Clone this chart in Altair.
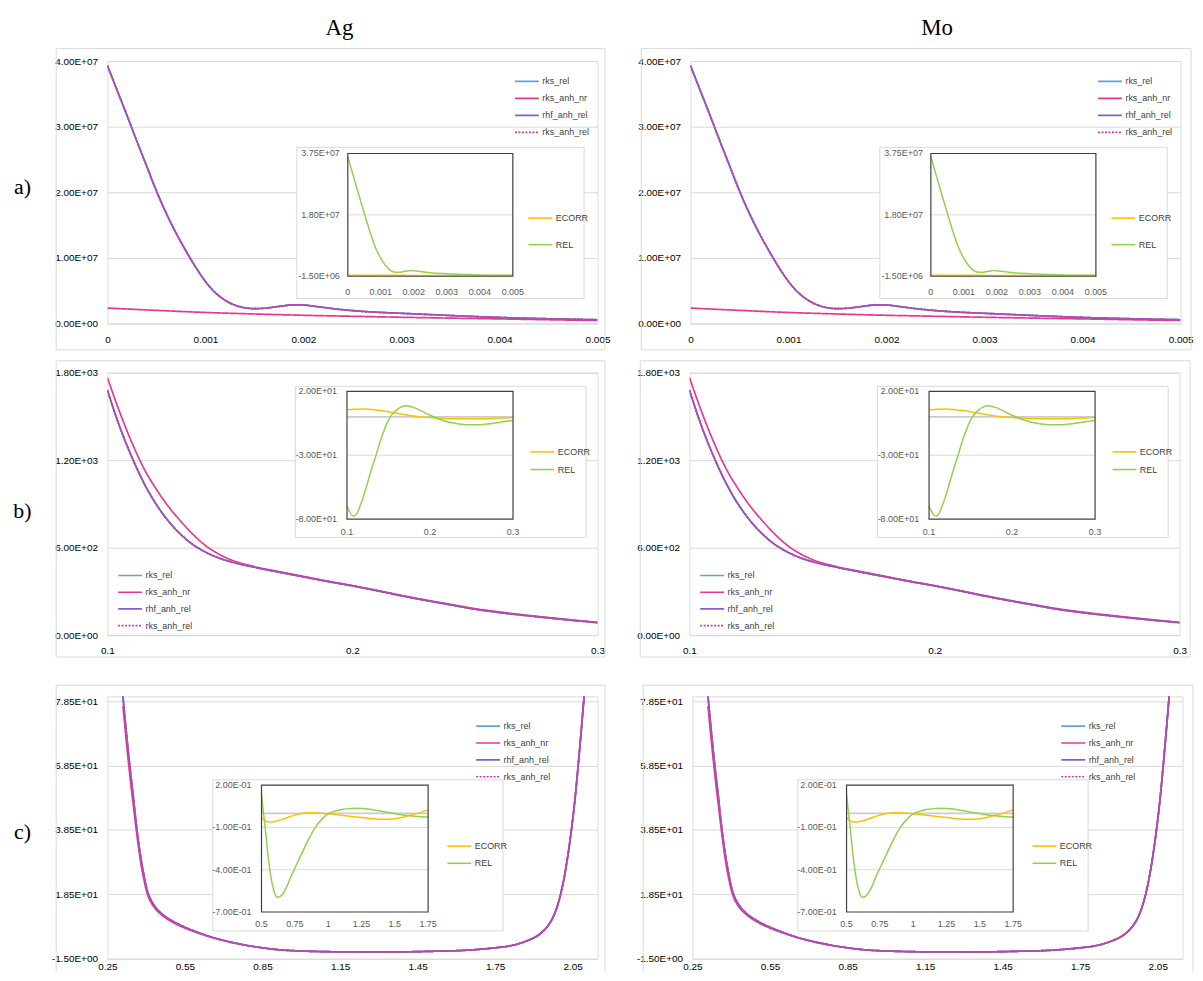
import altair as alt
import pandas as pd

W, H = 493, 264

SERIES = ["rks_rel", "rks_anh_nr", "rhf_anh_rel", "rks_anh_rel"]
SERIES_COLORS = ["#5BA3DC", "#E8388E", "#8A5CCF", "#C8409C"]
SERIES_DASH = [[1, 0], [1, 0], [1, 0], [2, 1.5]]
INSET_SERIES = ["ECORR", "REL"]
INSET_COLORS = ["#FFC000", "#92D050"]

# ---------------- row a) ----------------
A_X = [0, 0.0001, 0.0002, 0.0003, 0.0004, 0.0005, 0.0006, 0.0007, 0.0008, 0.0009,
       0.001, 0.0011, 0.0012, 0.0013, 0.0014, 0.0015, 0.0016, 0.0017, 0.0018, 0.0019,
       0.002, 0.0021, 0.0022, 0.0024, 0.0026, 0.0028, 0.003, 0.0033, 0.0036, 0.004,
       0.0045, 0.005]
A_REL_MAIN = [3.93e7, 3.55e7, 3.17e7, 2.78e7, 2.40e7, 2.02e7, 1.68e7, 1.38e7, 1.11e7, 0.86e7,
              0.64e7, 0.47e7, 0.355e7, 0.28e7, 0.24e7, 0.227e7, 0.232e7, 0.25e7, 0.27e7, 0.285e7,
              0.282e7, 0.265e7, 0.245e7, 0.21e7, 0.185e7, 0.168e7, 0.155e7, 0.135e7, 0.115e7, 0.092e7,
              0.072e7, 0.057e7]
A_NR_X = [0, 0.0005, 0.001, 0.0015, 0.002, 0.0025, 0.003, 0.0035, 0.004, 0.0045, 0.005]
A_NR = [2.35e6, 2.0e6, 1.68e6, 1.45e6, 1.25e6, 1.1e6, 0.95e6, 0.82e6, 0.7e6, 0.57e6, 0.45e6]
A_IN_X = [0, 0.0001, 0.0002, 0.0003, 0.0004, 0.0005, 0.0006, 0.0007, 0.0008, 0.0009,
          0.001, 0.0011, 0.0012, 0.0013, 0.0014, 0.0015, 0.0016, 0.0017, 0.0018, 0.0019,
          0.002, 0.0022, 0.0025, 0.003, 0.0035, 0.004, 0.0045, 0.005]
A_IN_REL = [3.65e7, 3.28e7, 2.92e7, 2.56e7, 2.2e7, 1.85e7, 1.5e7, 1.17e7, 0.87e7, 0.62e7,
            0.42e7, 0.25e7, 0.12e7, 0.03e7, -0.015e7, -0.025e7, -0.02e7, 0.0, 0.02e7, 0.03e7,
            0.025e7, 0.0, -0.04e7, -0.07e7, -0.09e7, -0.11e7, -0.12e7, -0.12e7]
A_EC_X = [0, 0.001, 0.002, 0.003, 0.004, 0.005]
A_EC = [-1.2e6, -1.2e6, -1.22e6, -1.22e6, -1.24e6, -1.25e6]
A_XTICKS = [0, 0.001, 0.002, 0.003, 0.004, 0.005]
A_YTICKS = [0, 1e7, 2e7, 3e7, 4e7]
A_IN_XLABELS = ["0", "0.001", "0.002", "0.003", "0.004", "0.005"]
A_IN_YTICKS = [-1.5e6, 1.8e7, 3.75e7]
A_IN_YLABELS = ["-1.50E+06", "1.80E+07", "3.75E+07"]

# ---------------- row b) ----------------
B_X = [0.1, 0.105, 0.11, 0.115, 0.12, 0.125, 0.13, 0.135, 0.14, 0.145, 0.15, 0.16, 0.17,
       0.18, 0.19, 0.2, 0.21, 0.22, 0.23, 0.24, 0.25, 0.26, 0.27, 0.28, 0.29, 0.3]
B_REL_MAIN = [1680, 1430, 1220, 1040, 895, 780, 690, 620, 570, 532, 505, 466, 432,
              400, 368, 338, 305, 270, 238, 208, 178, 155, 136, 118, 101, 86]
B_NR = [1766, 1530, 1320, 1140, 1000, 880, 780, 690, 615, 560, 520, 470, 436,
        403, 370, 340, 307, 273, 241, 211, 182, 159, 139, 121, 104, 88]
B_IN_X = [0.1, 0.103, 0.106, 0.109, 0.112, 0.115, 0.12, 0.125, 0.13, 0.135, 0.14, 0.145,
          0.15, 0.155, 0.16, 0.165, 0.17, 0.175, 0.18, 0.19, 0.2, 0.21, 0.22, 0.23, 0.24,
          0.25, 0.26, 0.27, 0.28, 0.29, 0.3]
B_IN_REL = [-70, -74, -77, -77.5, -75.5, -71, -62, -51, -40, -30, -19, -10,
            -2.5, 2.4, 5.5, 7.6, 8.6, 8.3, 7.4, 4.5, 1.3, -1.5, -3.6, -5.0, -5.9,
            -6.2, -6.1, -5.5, -4.6, -3.7, -2.8]
B_EC_X = [0.1, 0.11, 0.12, 0.13, 0.14, 0.15, 0.16, 0.17, 0.18, 0.19, 0.2, 0.22, 0.24, 0.26, 0.28, 0.3]
B_EC = [5.5, 6.0, 6.2, 5.8, 5.0, 4.0, 2.8, 1.6, 0.6, -0.1, -0.6, -1.2, -1.5, -1.5, -1.1, -0.5]
B_XTICKS = [0.1, 0.2, 0.3]
B_YTICKS = [0, 600, 1200, 1800]
B_IN_XLABELS = ["0.1", "0.2", "0.3"]
B_IN_YTICKS = [-80, -30, 20]
B_IN_YLABELS = ["-8.00E+01", "-3.00E+01", "2.00E+01"]

# ---------------- row c) ----------------
C_X = [0.31, 0.32, 0.33, 0.34, 0.35, 0.36, 0.37, 0.38, 0.39, 0.40, 0.41, 0.42, 0.43, 0.44,
       0.46, 0.48, 0.50, 0.55, 0.60, 0.65, 0.70, 0.75, 0.80, 0.85, 0.90, 1.0, 1.1, 1.2, 1.3,
       1.4, 1.5, 1.6, 1.65, 1.7, 1.75, 1.8, 1.85, 1.88, 1.9, 1.92, 1.94, 1.96, 1.98, 2.0,
       2.02, 2.04, 2.06, 2.07, 2.08, 2.09, 2.10]
C_REL_MAIN = [80, 71.5, 63.5, 56, 49, 41.5, 35, 29.5, 25, 21, 18.3, 16.5, 15.2, 14.1,
              12.5, 11.3, 10.3, 8.3, 6.7, 5.3, 4.2, 3.3, 2.5, 1.9, 1.4, 0.9, 0.7, 0.6, 0.6,
              0.65, 0.8, 1.0, 1.2, 1.5, 1.9, 2.4, 3.4, 4.3, 5.0, 6.0, 7.4, 9.4, 12.5, 17.5,
              25, 35.5, 49, 57.5, 66.5, 76, 86]
C_NR = [77, 68.5, 60.5, 53, 46.3, 39.5, 33.2, 27.8, 23.5, 19.9, 17.4, 15.8, 14.6, 13.6,
        12.1, 10.9, 9.9, 8.0, 6.5, 5.2, 4.1, 3.2, 2.5, 1.9, 1.4, 0.9, 0.7, 0.6, 0.6,
        0.65, 0.8, 1.0, 1.2, 1.5, 1.9, 2.4, 3.4, 4.3, 5.0, 6.0, 7.4, 9.4, 12.5, 17.5,
        25, 35.5, 49, 57.5, 66.5, 76, 86]
C_IN_X = [0.5, 0.51, 0.525, 0.55, 0.58, 0.60, 0.62, 0.64, 0.66, 0.69, 0.72, 0.75, 0.8, 0.85,
          0.9, 0.95, 1.0, 1.05, 1.1, 1.15, 1.2, 1.25, 1.3, 1.35, 1.4, 1.45, 1.5, 1.55, 1.6,
          1.65, 1.7, 1.75]
C_IN_REL = [0.134, 0.04, -0.08, -0.31, -0.50, -0.57, -0.595, -0.59, -0.57, -0.52, -0.45, -0.39,
            -0.29, -0.19, -0.105, -0.045, -0.005, 0.015, 0.027, 0.033, 0.035, 0.034, 0.03,
            0.022, 0.014, 0.006, -0.002, -0.01, -0.016, -0.021, -0.024, -0.026]
C_EC_X = [0.5, 0.53, 0.56, 0.6, 0.65, 0.7, 0.75, 0.8, 0.85, 0.9, 0.95, 1.0, 1.1, 1.2, 1.3,
          1.4, 1.5, 1.55, 1.6, 1.65, 1.7, 1.75]
C_EC = [-0.03, -0.055, -0.062, -0.058, -0.045, -0.028, -0.012, -0.002, 0.003, 0.003, 0.0,
        -0.004, -0.014, -0.025, -0.036, -0.042, -0.038, -0.03, -0.018, -0.006, 0.008, 0.024]
C_XTICKS = [0.25, 0.55, 0.85, 1.15, 1.45, 1.75, 2.05]
C_YTICKS = [-1.5, 18.5, 38.5, 58.5, 78.5]
C_IN_XTICKS = [0.5, 0.75, 1, 1.25, 1.5, 1.75]
C_IN_XLABELS = ["0.5", "0.75", "1", "1.25", "1.5", "1.75"]
C_IN_YTICKS = [-0.7, -0.4, -0.1, 0.2]
C_IN_YLABELS = ["-7.00E-01", "-4.00E-01", "-1.00E-01", "2.00E-01"]

COLUMN_TITLES = ["Ag", "Mo"]
ROW_LABELS = ["a)", "b)", "c)"]

FONT = "Liberation Sans"
SERIF = "Liberation Serif"
LABEL_COLOR = "#595959"

SCI = ("replace(split(format(datum.value, '.2e'), 'e')[0], '\u2212', '-') + 'E' + "
       "slice(split(format(datum.value, '.2e'), 'e')[1], 0, 1) + "
       "pad(slice(split(format(datum.value, '.2e'), 'e')[1], 1), 2, '0', 'left')")
PLAIN = "'' + datum.value"
ONE = pd.DataFrame({"a": [0]})


def long_df(pairs):
    rows = []
    for name, xs, vs in pairs:
        for x, v in zip(xs, vs):
            rows.append({"s": name, "x": x, "v": v})
    return pd.DataFrame(rows)


ROWS = [
    dict(
        main=[("rks_rel", A_X, A_REL_MAIN), ("rks_anh_nr", A_NR_X, A_NR),
              ("rhf_anh_rel", A_X, A_REL_MAIN), ("rks_anh_rel", A_X, A_REL_MAIN)],
        inset=[("ECORR", A_EC_X, A_EC), ("REL", A_IN_X, A_IN_REL)],
        xdom=[0, 0.005], ydom=[0, 4e7], xticks=A_XTICKS, yticks=A_YTICKS, xpad=11,
        ixdom=[0, 0.005], iydom=[-1.5e6, 3.75e7],
        ixticks=A_XTICKS, ixlabels=A_IN_XLABELS, iyticks=A_IN_YTICKS, iylabels=A_IN_YLABELS,
        igrid=[1.8e7], ixlab_dy=16, iylab_dx=8, zero=False,
        box_y=(-12.5, 290.5), frame_y=(-52.5, 295), box_bottom=True,
        leg=(407, 19.5, 16.4), inleg=(420.5, 157, 26),
        inbox=(190.5, 479.5, 86.8, 238.8), inplot=(241.8, 407.8, 93, 216.5),
        label_y=126.5,
    ),
    dict(
        main=[("rks_rel", B_X, B_REL_MAIN), ("rks_anh_nr", B_X, B_NR),
              ("rhf_anh_rel", B_X, B_REL_MAIN), ("rks_anh_rel", B_X, B_REL_MAIN)],
        inset=[("ECORR", B_EC_X, B_EC), ("REL", B_IN_X, B_IN_REL)],
        xdom=[0.1, 0.3], ydom=[0, 1800], xticks=B_XTICKS, yticks=B_YTICKS, xpad=10,
        ixdom=[0.1, 0.3], iydom=[-80, 20],
        ixticks=B_XTICKS, ixlabels=B_IN_XLABELS, iyticks=B_IN_YTICKS, iylabels=B_IN_YLABELS,
        igrid=[-30], ixlab_dy=12.5, iylab_dx=10, zero=True,
        box_y=(-12, 286), frame_y=(-15, 307.5), box_bottom=True,
        leg=(7.8, 203, 16.1), inleg=(422.5, 78.7, 17),
        inbox=(189, 481.5, 13.7, 165.7), inplot=(241, 408, 18.7, 147.3),
        label_y=139,
    ),
    dict(
        main=[("rks_rel", C_X, C_REL_MAIN), ("rks_anh_nr", C_X, C_NR),
              ("rhf_anh_rel", C_X, C_REL_MAIN), ("rks_anh_rel", C_X, C_REL_MAIN)],
        inset=[("ECORR", C_EC_X, C_EC), ("REL", C_IN_X, C_IN_REL)],
        xdom=[0.25, 2.146], ydom=[-1.5, 80], xticks=C_XTICKS, yticks=C_YTICKS, xpad=3,
        ixdom=[0.5, 1.75], iydom=[-0.7, 0.2],
        ixticks=C_IN_XTICKS, ixlabels=C_IN_XLABELS, iyticks=C_IN_YTICKS, iylabels=C_IN_YLABELS,
        igrid=[-0.4, -0.1], ixlab_dy=12.3, iylab_dx=10, zero=True,
        box_y=(-11, 277), frame_y=(-15, 277), box_bottom=False,
        leg=(368, 29, 16.3), inleg=(339, 149.7, 16.6),
        inbox=(106, 398, 84, 236), inplot=(155, 322.6, 89.3, 217),
        label_y=137,
    ),
]


def legend(lx, first_center, spacing):
    return alt.Legend(
        orient="none", legendX=lx + 8, legendY=first_center - 6, title=None,
        symbolType="M-2,0H2", symbolSize=144, symbolStrokeWidth=1.6,
        labelOffset=8.5, rowPadding=spacing - 11.3, padding=0,
        labelFont=FONT, labelFontSize=9, labelColor="#404040",
    )


def rule(x0, x1, y0, y1, color="#d9d9d9", width=1):
    enc = dict(x=alt.value(x0), y=alt.value(y0))
    if x1 != x0:
        enc["x2"] = alt.value(x1)
    if y1 != y0:
        enc["y2"] = alt.value(y1)
    return alt.Chart(ONE).mark_rule(color=color, strokeWidth=width).encode(**enc)


def panel(p, col, row_idx):
    box_x = (-51.5, 500.5) if col == 0 else (-49.5, 503.5)
    frame_x = (-99.5, 505) if col == 0 else (-52, 505)
    frame = alt.Chart(ONE).mark_rect(opacity=0).encode(
        x=alt.value(frame_x[0]), x2=alt.value(frame_x[1]),
        y=alt.value(p["frame_y"][0]), y2=alt.value(p["frame_y"][1]))
    by0, by1 = p["box_y"]
    outer = [rule(box_x[0], box_x[1], by0, by0), rule(box_x[0], box_x[0], by0, by1),
             rule(box_x[1], box_x[1], by0, by1)]
    if p["box_bottom"]:
        outer.append(rule(box_x[0], box_x[1], by1, by1))

    lx, ly, lsp = p["leg"]
    leg_main = legend(lx, ly, lsp)
    main = alt.Chart(long_df(p["main"])).mark_line(
        strokeWidth=1.7, interpolate="monotone", clip=True).encode(
        x=alt.X("x:Q", scale=alt.Scale(domain=p["xdom"], nice=False, zero=False),
                axis=alt.Axis(values=p["xticks"], labelExpr=PLAIN, title=None, grid=False,
                              ticks=False, domain=False, labelPadding=p["xpad"],
                              labelFlush=False, labelOverlap=False)),
        y=alt.Y("v:Q", scale=alt.Scale(domain=p["ydom"], nice=False, zero=False),
                axis=alt.Axis(values=p["yticks"], labelExpr=SCI, title=None, grid=True,
                              gridColor="#d9d9d9", ticks=False, domain=False, labelPadding=10,
                              labelFlush=False, labelOverlap=False)),
        color=alt.Color("s:N", scale=alt.Scale(domain=SERIES, range=SERIES_COLORS),
                        legend=leg_main),
        strokeDash=alt.StrokeDash("s:N", scale=alt.Scale(domain=SERIES, range=SERIES_DASH),
                                  legend=leg_main),
    )

    ix0, ix1, iy0, iy1 = p["inplot"]
    bx0, bx1, iby0, iby1 = p["inbox"]
    xs_in = alt.Scale(domain=p["ixdom"], range=[ix0, ix1], nice=False, zero=False)
    ys_in = alt.Scale(domain=p["iydom"], range=[iy1, iy0], nice=False, zero=False)

    ibox = alt.Chart(ONE).mark_rect(fill="white", stroke="#d9d9d9", strokeWidth=1).encode(
        x=alt.value(bx0), x2=alt.value(bx1), y=alt.value(iby0), y2=alt.value(iby1))
    igrid = alt.Chart(pd.DataFrame({"g": p["igrid"]})).mark_rule(
        color="#d9d9d9", strokeWidth=1).encode(
        y=alt.Y("g:Q", scale=ys_in, axis=None),
        x=alt.XDatum(p["ixdom"][0], type="quantitative", scale=xs_in, axis=None),
        x2=alt.X2Datum(p["ixdom"][1]))
    ilx, ily, ilsp = p["inleg"]
    ilines = alt.Chart(long_df(p["inset"])).mark_line(
        strokeWidth=1.5, interpolate="monotone", clip=False).encode(
        x=alt.X("x:Q", scale=xs_in, axis=None),
        y=alt.Y("v:Q", scale=ys_in, axis=None),
        color=alt.Color("s:N", scale=alt.Scale(domain=INSET_SERIES, range=INSET_COLORS),
                        legend=legend(ilx, ily, ilsp)),
    )
    iborder = alt.Chart(ONE).mark_rect(fillOpacity=0, stroke="#404040", strokeWidth=1.2).encode(
        x=alt.XDatum(p["ixdom"][0], type="quantitative", scale=xs_in, axis=None),
        x2=alt.X2Datum(p["ixdom"][1]),
        y=alt.YDatum(p["iydom"][0], type="quantitative", scale=ys_in, axis=None),
        y2=alt.Y2Datum(p["iydom"][1]))
    xlab = alt.Chart(pd.DataFrame({"t": p["ixticks"], "lab": p["ixlabels"]})).mark_text(
        font=FONT, fontSize=9, color=LABEL_COLOR, align="center", baseline="middle").encode(
        x=alt.X("t:Q", scale=xs_in, axis=None), y=alt.value(iy1 + p["ixlab_dy"]),
        text="lab:N")
    ylab = alt.Chart(pd.DataFrame({"t": p["iyticks"], "lab": p["iylabels"]})).mark_text(
        font=FONT, fontSize=9, color=LABEL_COLOR, align="right", baseline="middle").encode(
        y=alt.Y("t:Q", scale=ys_in, axis=None), x=alt.value(ix0 - p["iylab_dx"]),
        text="lab:N")
    inset_layers = [ibox, igrid]
    if p["zero"]:
        inset_layers.append(alt.Chart(ONE).mark_rule(color="#cccccc", strokeWidth=1.8).encode(
            y=alt.YDatum(0, type="quantitative", scale=ys_in, axis=None),
            x=alt.XDatum(p["ixdom"][0], type="quantitative", scale=xs_in, axis=None),
            x2=alt.X2Datum(p["ixdom"][1])))
    inset_layers += [ilines, iborder, xlab, ylab]
    inset = alt.layer(*inset_layers)

    layers = [frame] + outer + [main, inset]
    if col == 0:
        layers.append(alt.Chart(ONE).mark_text(
            text=ROW_LABELS[row_idx], font=SERIF, fontSize=22, color="#000000",
            align="center", baseline="middle").encode(
            x=alt.value(-85.5), y=alt.value(p["label_y"])))
    if row_idx == 0:
        layers.append(alt.Chart(ONE).mark_text(
            text=COLUMN_TITLES[col], font=SERIF, fontSize=23, color="#000000",
            align="center", baseline="middle").encode(
            x=alt.value(233.5 if col == 0 else 248), y=alt.value(-33.5)))

    return alt.layer(*layers).resolve_scale(
        x="independent", y="independent", color="independent", strokeDash="independent"
    ).resolve_axis(x="independent", y="independent").resolve_legend(
        color="independent", strokeDash="independent"
    ).properties(width=W, height=H)


def indep(c):
    return c.resolve_scale(color="independent", strokeDash="independent").resolve_legend(
        color="independent", strokeDash="independent")


rows = [indep(alt.hconcat(panel(p, 0, i), panel(p, 1, i), spacing=25.5))
        for i, p in enumerate(ROWS)]
chart = indep(alt.vconcat(*rows, spacing=1.5)).properties(
    padding={"top": -2.5, "left": 0, "right": 0, "bottom": 0})

chart = chart.configure_view(stroke="#404040", strokeWidth=1).configure_axis(
    labelFont=FONT, labelFontSize=9, labelColor=LABEL_COLOR
).configure(background="white")

chart.save("out.html", embed_options={"renderer": "svg", "actions": False})
